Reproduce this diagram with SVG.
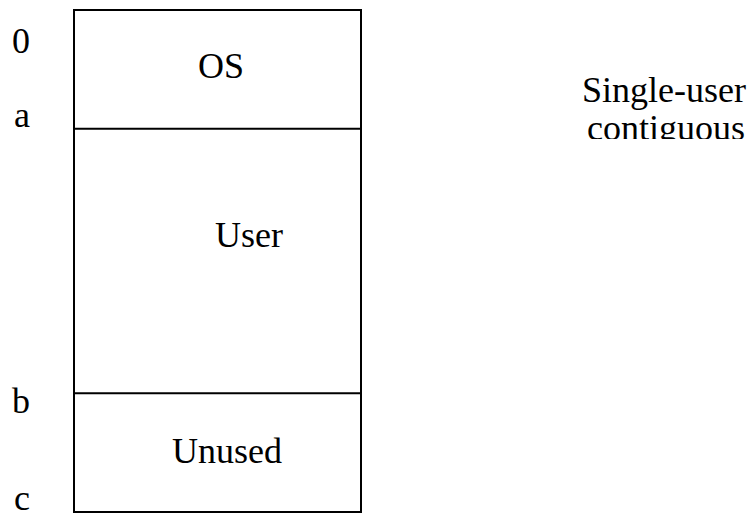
<svg xmlns="http://www.w3.org/2000/svg" width="752" height="513" viewBox="0 0 752 513">
<style>
.t{font-family:"Liberation Serif","Times New Roman",serif;font-size:36px;fill:#000}
.ln{stroke:#000;stroke-width:2;fill:none}
</style>
<defs><clipPath id="clipC"><rect x="560" y="100" width="192" height="39"/></clipPath></defs>
<rect x="0" y="0" width="752" height="513" fill="#fff"/>
<g id="memory">
<rect class="ln" x="74" y="10" width="287" height="502"/>
</g>
<g id="connectors">
<line class="ln" x1="74" y1="128.7" x2="361" y2="128.7"/>
<line class="ln" x1="74" y1="393.3" x2="361" y2="393.3"/>
</g>
<g id="os"><text class="t" x="198" y="78">OS</text></g>
<g id="user"><text class="t" x="215" y="247">User</text></g>
<g id="unused"><text class="t" x="172" y="463">Unused</text></g>
<g id="addresses">
<text class="t" x="12" y="53">0</text>
<text class="t" x="14" y="127">a</text>
<text class="t" x="12" y="413">b</text>
<text class="t" x="14" y="510">c</text>
</g>
<g id="caption">
<text class="t" x="582" y="102">Single-user</text>
<text class="t" x="587" y="140" clip-path="url(#clipC)">contiguous</text>
</g>
</svg>
